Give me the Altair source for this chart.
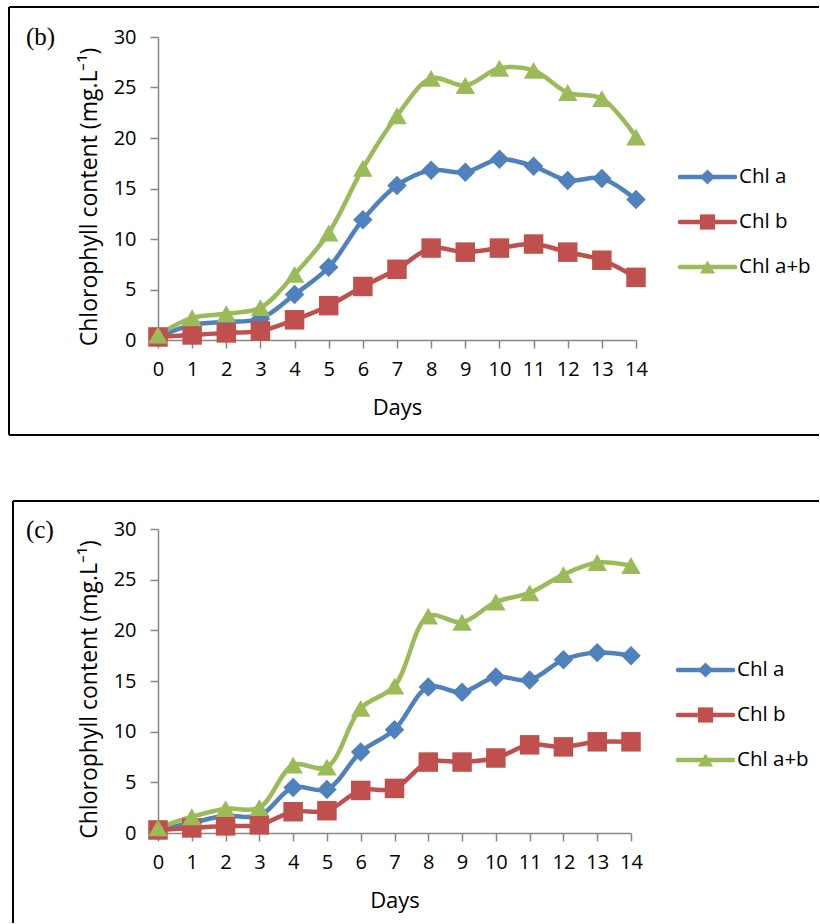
import altair as alt
import pandas as pd

days = list(range(15))
series = ["Chl a", "Chl b", "Chl a+b"]
colors = ["#4F81BD", "#C0504D", "#9BBB59"]
shapes = ["diamond", "square", "triangle-up"]
y_ticks = [0, 5, 10, 15, 20, 25, 30]

# Panel (b)
b_chl_a = [0.3, 1.5, 1.8, 2.1, 4.5, 7.2, 11.9, 15.3, 16.8, 16.6, 17.9, 17.2, 15.8, 16.0, 13.9]
b_chl_b = [0.3, 0.5, 0.7, 0.9, 2.0, 3.4, 5.3, 7.0, 9.1, 8.7, 9.1, 9.5, 8.7, 7.9, 6.2]
b_chl_ab = [0.5, 2.2, 2.6, 3.2, 6.5, 10.6, 17.0, 22.2, 25.9, 25.2, 26.9, 26.7, 24.5, 23.9, 20.1]

# Panel (c)
c_chl_a = [0.3, 1.0, 1.7, 1.7, 4.5, 4.3, 8.0, 10.2, 14.4, 13.9, 15.4, 15.1, 17.1, 17.8, 17.5]
c_chl_b = [0.3, 0.5, 0.7, 0.8, 2.1, 2.2, 4.2, 4.4, 7.0, 7.0, 7.4, 8.7, 8.5, 9.0, 9.0]
c_chl_ab = [0.5, 1.6, 2.4, 2.5, 6.7, 6.5, 12.3, 14.5, 21.4, 20.8, 22.8, 23.7, 25.5, 26.7, 26.4]

FONT = "Open Sans"
AXIS_GRAY = "#868686"
LEFT = 158


def long_df(a, b, ab):
    rows = []
    for s, vals in zip(series, [a, b, ab]):
        for d, v in zip(days, vals):
            rows.append({"day": d, "value": v, "series": s})
    return pd.DataFrame(rows)


def one():
    return alt.Chart(pd.DataFrame({"k": [0]}))


def panel(label, a, b, ab, width, height, plot_top, frame_top, frame_bottom,
          frame_left, frame_right, leg_top, leg_x0, draw_bottom, label_dy):
    df = long_df(a, b, ab)
    df["sidx"] = df["series"].map({s: i for i, s in enumerate(series)})
    x = alt.X("day:Q", scale=alt.Scale(domain=[0, 14], nice=False),
              axis=alt.Axis(values=days, tickCount=15, title="Days", grid=False, tickSize=8,
                            labelPadding=11, titlePadding=18, labelFlush=False,
                            labelOverlap=False,
                            domainColor=AXIS_GRAY, tickColor=AXIS_GRAY,
                            domainWidth=1.5, tickWidth=1.5,
                            labelFontSize=20, titleFontSize=22))
    y = alt.Y("value:Q", scale=alt.Scale(domain=[0, 30], nice=False),
              axis=alt.Axis(values=y_ticks, title="Chlorophyll content (mg.L⁻¹)",
                            grid=False, tickSize=8, labelPadding=14, titlePadding=12,
                            titleY=height / 2 + 8,
                            labelOverlap=False,
                            domainColor=AXIS_GRAY, tickColor=AXIS_GRAY,
                            domainWidth=1.5, tickWidth=1.5,
                            labelFontSize=20, titleFontSize=23))
    color = alt.Color("series:N", scale=alt.Scale(domain=series, range=colors), legend=None)
    shape = alt.Shape("series:N", scale=alt.Scale(domain=series, range=shapes), legend=None)
    order = alt.Order("sidx:Q")

    lines = alt.Chart(df).mark_line(interpolate="catmull-rom", strokeWidth=4.5,
                                    strokeCap="round", strokeJoin="round").encode(
        x=x, y=y, color=color, detail="series:N")
    points = alt.Chart(df).mark_point(filled=True, size=380, opacity=1).encode(
        x=x, y=y, color=color, shape=shape, order=order)

    layers = [lines, points]

    # frame (top, left, bottom)
    ft = frame_top - plot_top
    fl = frame_left - LEFT
    fr = frame_right - LEFT
    layers.append(one().mark_rule(color="black", strokeWidth=2).encode(
        x=alt.value(fl), x2=alt.value(fr), y=alt.value(ft)))
    fb = frame_bottom - plot_top
    layers.append(one().mark_rule(color="black", strokeWidth=2).encode(
        x=alt.value(fl), y=alt.value(ft), y2=alt.value(fb)))
    if draw_bottom:
        layers.append(one().mark_rule(color="black", strokeWidth=2).encode(
            x=alt.value(fl), x2=alt.value(fr), y=alt.value(fb)))

    # panel label
    layers.append(one().mark_text(font="Liberation Serif", fontSize=25, align="left",
                                  baseline="middle", color="black").encode(
        x=alt.value(26 - LEFT), y=alt.value(label_dy), text=alt.value(label)))

    # legend
    for i, (s, c, sh) in enumerate(zip(series, colors, shapes)):
        yy = leg_top - plot_top + 45 * i
        x0 = leg_x0 - LEFT
        d = alt.Chart(pd.DataFrame({"series": [s]}))
        layers.append(d.mark_rule(color=c, strokeWidth=4.5, strokeCap="round").encode(
            x=alt.value(x0), x2=alt.value(x0 + 55), y=alt.value(yy)))
        layers.append(d.mark_point(shape=sh, filled=True, size=230, color=c, opacity=1).encode(
            x=alt.value(x0 + 27.5), y=alt.value(yy)))
        layers.append(d.mark_text(font=FONT, fontSize=20.5, align="left", baseline="middle",
                                  color="black").encode(
            x=alt.value(x0 + 59), y=alt.value(yy), text="series:N"))

    return alt.layer(*layers).properties(width=width, height=height)


pb = panel("(b)", b_chl_a, b_chl_b, b_chl_ab, width=478, height=303, plot_top=37,
           frame_top=7, frame_bottom=435, frame_left=9, frame_right=819,
           leg_top=177, leg_x0=680, draw_bottom=True, label_dy=0)
pc = panel("(c)", c_chl_a, c_chl_b, c_chl_ab, width=473, height=304, plot_top=529,
           frame_top=501, frame_bottom=923, frame_left=13, frame_right=819,
           leg_top=670, leg_x0=678, draw_bottom=False, label_dy=1)

chart = alt.vconcat(pb, pc, spacing=64).properties(
    padding={"left": 8, "top": 6, "right": 0, "bottom": 0},
    background="white",
).configure_view(stroke=None).configure_axis(
    labelFont=FONT, titleFont=FONT, labelColor="black", titleColor="black",
    titleFontWeight="normal"
)

chart.save("out.html", embed_options={"renderer": "svg", "actions": False})
